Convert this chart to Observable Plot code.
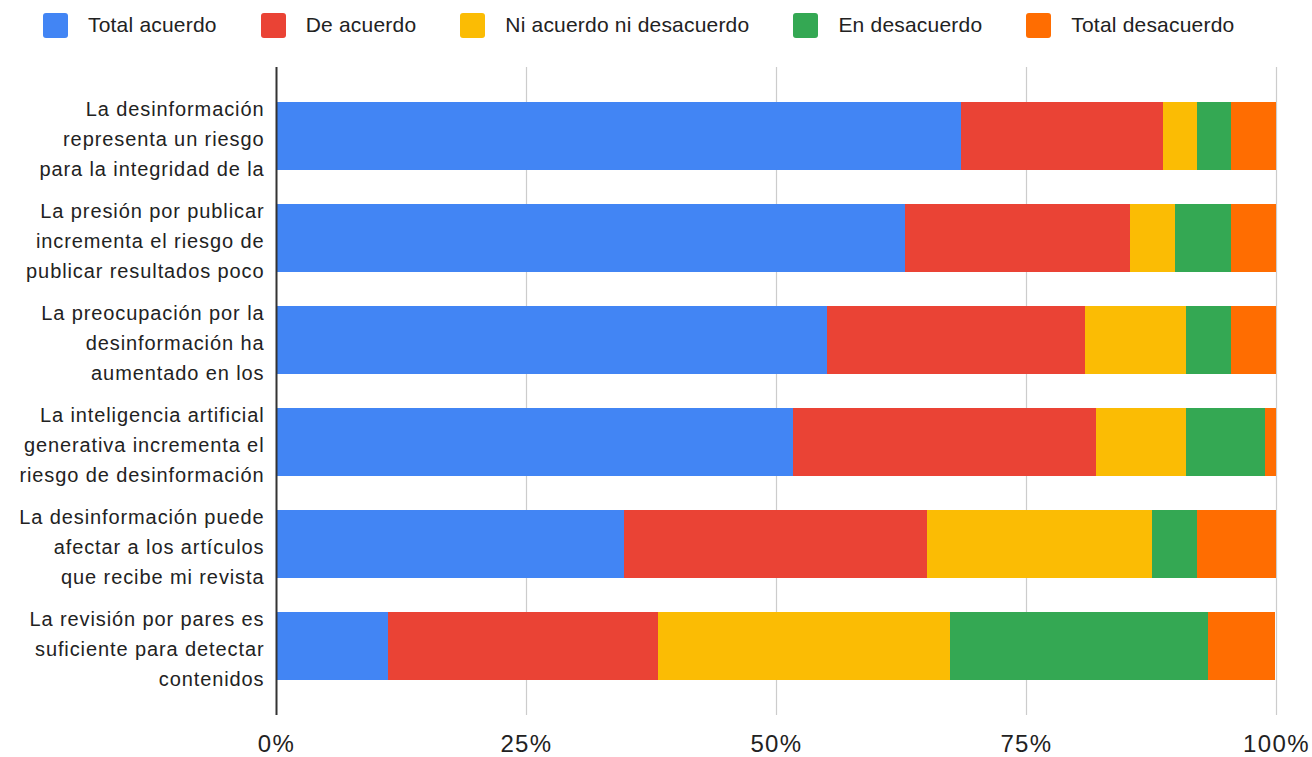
<!DOCTYPE html>
<html>
<head>
<meta charset="utf-8">
<script src="https://cdn.jsdelivr.net/npm/d3@7"></script>
<script src="https://cdn.jsdelivr.net/npm/@observablehq/plot@0.6"></script>
<style>
  html, body { margin: 0; padding: 0; background: #fff; }
  body { width: 1312px; height: 757px; overflow: hidden; font-family: "Liberation Sans", Arial, sans-serif; }
  #legend { height: 50px; display: flex; align-items: center; padding-left: 43px; box-sizing: border-box; font-size: 21px; letter-spacing: 0.2px; color: #222; }
  .item { display: flex; align-items: center; margin-right: 44px; }
  .sw { width: 25px; height: 25px; border-radius: 3px; margin-right: 20px; }
  #chart svg { display: block; }
  #chart g[aria-label="y-axis tick label"] text { letter-spacing: 0.9px; }
  #chart g[aria-label="x-axis tick label"] text { letter-spacing: 1.4px; }
</style>
</head>
<body>
<div id="legend"></div>
<div id="chart"></div>
<script>
const categories = [
  "La desinformación\nrepresenta un riesgo\npara la integridad de la",
  "La presión por publicar\nincrementa el riesgo de\npublicar resultados poco",
  "La preocupación por la\ndesinformación ha\naumentado en los",
  "La inteligencia artificial\ngenerativa incrementa el\nriesgo de desinformación",
  "La desinformación puede\nafectar a los artículos\nque recibe mi revista",
  "La revisión por pares es\nsuficiente para detectar\ncontenidos"
];
const series = ["Total acuerdo", "De acuerdo", "Ni acuerdo ni desacuerdo", "En desacuerdo", "Total desacuerdo"];
const colors = ["#4285F4", "#EA4335", "#FBBC04", "#34A853", "#FF6D01"];
const totalAcuerdo    = [68.5, 62.9, 55.1, 51.7, 34.8, 11.2];
const deAcuerdo       = [20.2, 22.5, 25.8, 30.3, 30.3, 27.0];
const niAcuerdo       = [3.4, 4.5, 10.1, 9.0, 22.5, 29.2];
const enDesacuerdo    = [3.4, 5.6, 4.5, 7.9, 4.5, 25.8];
const totalDesacuerdo = [4.5, 4.5, 4.5, 1.1, 7.9, 6.7];
const xTicks = [0, 25, 50, 75, 100];

const values = [totalAcuerdo, deAcuerdo, niAcuerdo, enDesacuerdo, totalDesacuerdo];
const data = [];
categories.forEach((c, i) => {
  series.forEach((s, j) => data.push({category: c, series: s, value: values[j][i]}));
});

// legend
const legend = document.getElementById("legend");
series.forEach((s, j) => {
  const it = document.createElement("div");
  it.className = "item";
  it.innerHTML = `<div class="sw" style="background:${colors[j]}"></div><span>${s}</span>`;
  legend.appendChild(it);
});

const chart = Plot.plot({
  width: 1312,
  height: 707,
  marginLeft: 276,
  marginRight: 36,
  marginTop: 17,
  marginBottom: 42,
  style: {fontFamily: '"Liberation Sans", Arial, sans-serif', color: "#222", background: "#fff"},
  x: {domain: [0, 100], ticks: xTicks, tickFormat: d => d + "%"},
  y: {domain: categories, padding: 0.333, label: null},
  color: {domain: series, range: colors},
  marks: [
    Plot.ruleX(xTicks.slice(1), {stroke: "#cccccc", strokeWidth: 1.2}),
    Plot.barX(data, Plot.stackX({y: "category", x: "value", fill: "series", order: series})),
    Plot.ruleX([0], {stroke: "#333", strokeWidth: 2}),
    Plot.axisX({ticks: xTicks, tickFormat: d => d + "%", tickSize: 0, tickPadding: 19, fontSize: 24, label: null, anchor: "bottom"}),
    Plot.axisY({tickSize: 0, tickPadding: 12, fontSize: 20, lineHeight: 1.5, label: null, textAnchor: "end"})
  ]
});
document.getElementById("chart").appendChild(chart);
</script>
</body>
</html>
